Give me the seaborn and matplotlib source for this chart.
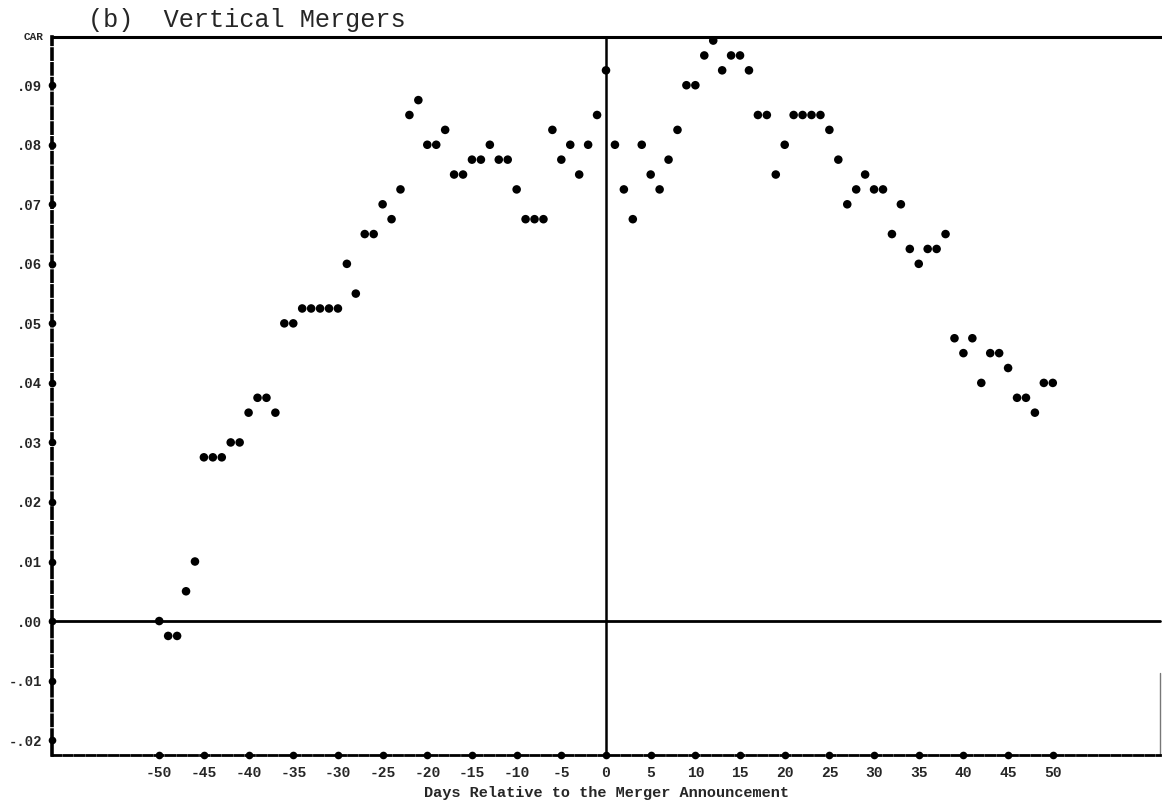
import matplotlib
matplotlib.use("Agg")
import matplotlib.pyplot as plt
import seaborn as sns
import pandas as pd
from matplotlib.ticker import FixedLocator, FixedFormatter

# ---------------- data ----------------
days = list(range(-50, 51))
car = [
    0.0, -0.0025, -0.0025, 0.005, 0.01,            # -50..-46
    0.0275, 0.0275, 0.0275, 0.03, 0.03,            # -45..-41
    0.035, 0.0375, 0.0375, 0.035, 0.05,            # -40..-36
    0.05, 0.0525, 0.0525, 0.0525, 0.0525,          # -35..-31
    0.0525, 0.06, 0.055, 0.065, 0.065,             # -30..-26
    0.07, 0.0675, 0.0725, 0.085, 0.0875,           # -25..-21
    0.08, 0.08, 0.0825, 0.075, 0.075,              # -20..-16
    0.0775, 0.0775, 0.08, 0.0775, 0.0775,          # -15..-11
    0.0725, 0.0675, 0.0675, 0.0675, 0.0825,        # -10..-6
    0.0775, 0.08, 0.075, 0.08, 0.085,              # -5..-1
    0.0925,                                        # 0
    0.08, 0.0725, 0.0675, 0.08, 0.075,             # 1..5
    0.0725, 0.0775, 0.0825, 0.09, 0.09,            # 6..10
    0.095, 0.0975, 0.0925, 0.095, 0.095,           # 11..15
    0.0925, 0.085, 0.085, 0.075, 0.08,             # 16..20
    0.085, 0.085, 0.085, 0.085, 0.0825,            # 21..25
    0.0775, 0.07, 0.0725, 0.075, 0.0725,           # 26..30
    0.0725, 0.065, 0.07, 0.0625, 0.06,             # 31..35
    0.0625, 0.0625, 0.065, 0.0475, 0.045,          # 36..40
    0.0475, 0.04, 0.045, 0.045, 0.0425,            # 41..45
    0.0375, 0.0375, 0.035, 0.04, 0.04,             # 46..50
]
x_ticks = list(range(-50, 51, 5))
x_tick_labels = [str(v) for v in x_ticks]
y_ticks = [-0.02, -0.01, 0.0, 0.01, 0.02, 0.03, 0.04, 0.05, 0.06, 0.07, 0.08, 0.09]
y_tick_labels = ["-.02", "-.01", ".00", ".01", ".02", ".03", ".04", ".05",
                 ".06", ".07", ".08", ".09"]
title = "(b)  Vertical Mergers"
x_label = "Days Relative to the Merger Announcement"
y_label = "CAR"

df = pd.DataFrame({"day": days, "car": car})

# ---------------- style ----------------
sns.set_style("white")
plt.rcParams["font.family"] = ["Liberation Mono", "DejaVu Sans Mono"]

W, H = 1162, 802
fig = plt.figure(figsize=(W / 100, H / 100), dpi=100)
ax = fig.add_axes([52 / W, 1 - 755 / H, (1160 - 52) / W, (755 - 37) / H])

sns.scatterplot(data=df, x="day", y="car", ax=ax, color="black", s=38,
                edgecolor="none", zorder=3, legend=False)

ax.set_xlim(-62, 62)
ax.set_ylim(-0.0225, 0.0981)

# reference lines
ax.axhline(0, color="black", lw=2.0, zorder=2, clip_on=False)
ax.axvline(0, color="black", lw=1.8, zorder=2)

# spines
for s in ["left", "bottom", "top", "right"]:
    ax.spines[s].set_color("black")
ax.spines["left"].set_linewidth(2.6)
ax.spines["left"].set_linestyle((0, (2.8, 1.3)))
ax.spines["bottom"].set_linewidth(2.0)
ax.spines["bottom"].set_linestyle((0, (3.0, 1.1)))
ax.spines["top"].set_linewidth(2.2)
ax.spines["right"].set_visible(False)
ax.plot([1, 1], [0, 0.114], transform=ax.transAxes, color="#777777",
        lw=1.0, clip_on=False)

# ticks as dots
ax.xaxis.set_major_locator(FixedLocator(x_ticks))
ax.xaxis.set_major_formatter(FixedFormatter(x_tick_labels))
ax.yaxis.set_major_locator(FixedLocator(y_ticks))
ax.yaxis.set_major_formatter(FixedFormatter(y_tick_labels))
ax.tick_params(axis="both", which="major", length=0, width=0)
ax.tick_params(axis="x", pad=8, labelsize=10.5)
ax.tick_params(axis="y", pad=7, labelsize=10)
for t in ax.xaxis.get_major_ticks() + ax.yaxis.get_major_ticks():
    t.tick1line.set_marker("o")
    t.tick1line.set_markersize(5.5)
    t.tick1line.set_markerfacecolor("black")
    t.tick1line.set_markeredgecolor("black")
    t.tick1line.set_visible(True)
for lbl in ax.get_xticklabels() + ax.get_yticklabels():
    lbl.set_fontweight("bold")

ax.set_xlabel(x_label, fontsize=11, fontweight="bold", labelpad=4)
ax.set_ylabel("")
ax.text(-0.008, 1.0, y_label, transform=ax.transAxes, ha="right", va="center",
        fontsize=8, fontweight="bold")

fig.text(88 / W, 1 - 20 / H, title, ha="left", va="center", fontsize=18.2)

fig.savefig("out.png", dpi=100)
